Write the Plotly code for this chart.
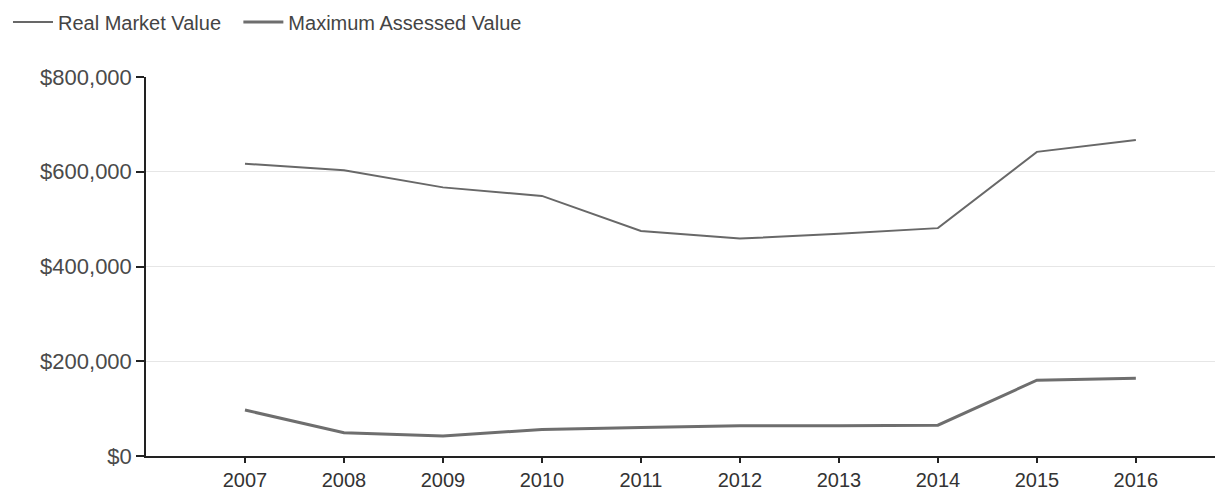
import plotly.graph_objects as go

years = [2007, 2008, 2009, 2010, 2011, 2012, 2013, 2014, 2015, 2016]
real_market_value = [617000, 603000, 567000, 549000, 475000, 459000, 469000, 481000, 642000, 667000]
max_assessed_value = [97000, 49000, 42000, 56000, 60000, 64000, 64000, 65000, 160000, 164000]
y_ticks = [0, 200000, 400000, 600000, 800000]
y_tick_labels = ["$0", "$200,000", "$400,000", "$600,000", "$800,000"]

fig = go.Figure()
fig.add_trace(go.Scatter(x=years, y=real_market_value, mode="lines",
                         name="Real Market Value", legend="legend",
                         line=dict(color="#686868", width=2)))
fig.add_trace(go.Scatter(x=years, y=max_assessed_value, mode="lines",
                         name="Maximum Assessed Value", legend="legend2",
                         line=dict(color="#6e6e6e", width=3)))

legend_font = dict(family="Liberation Sans, Arial, sans-serif", size=20, color="#444444")
fig.update_layout(
    width=1215, height=485,
    margin=dict(l=138, r=3, t=69, b=37, autoexpand=False),
    paper_bgcolor="white", plot_bgcolor="white",
    showlegend=True,
    legend=dict(orientation="h", x=-0.1285, xanchor="left", y=1.145, yanchor="middle",
                font=legend_font, itemwidth=40, bgcolor="rgba(0,0,0,0)"),
    legend2=dict(orientation="h", x=0.086, xanchor="left", y=1.145, yanchor="middle",
                 font=legend_font, itemwidth=40, bgcolor="rgba(0,0,0,0)"),
    font=dict(family="Liberation Sans, Arial, sans-serif", color="#444444"),
)
fig.update_xaxes(
    range=[2006, 2016.85], tickmode="array", tickvals=years, ticktext=[str(y) for y in years],
    showgrid=False, showline=True, linecolor="#222222", linewidth=1.5,
    ticks="outside", ticklen=5, tickcolor="#222222", tickwidth=1.5,
    tickfont=dict(size=20, color="#333333"), zeroline=False,
)
fig.update_yaxes(
    range=[0, 800000], tickmode="array", tickvals=y_ticks, ticktext=y_tick_labels,
    showgrid=True, gridcolor="#e6e6e6", gridwidth=1,
    showline=True, linecolor="#222222", linewidth=1.5,
    ticks="outside", ticklen=8, tickcolor="#222222", tickwidth=1.5,
    tickfont=dict(size=22, color="#4a4a4a"), zeroline=False,
)

fig.write_html("out.html")
